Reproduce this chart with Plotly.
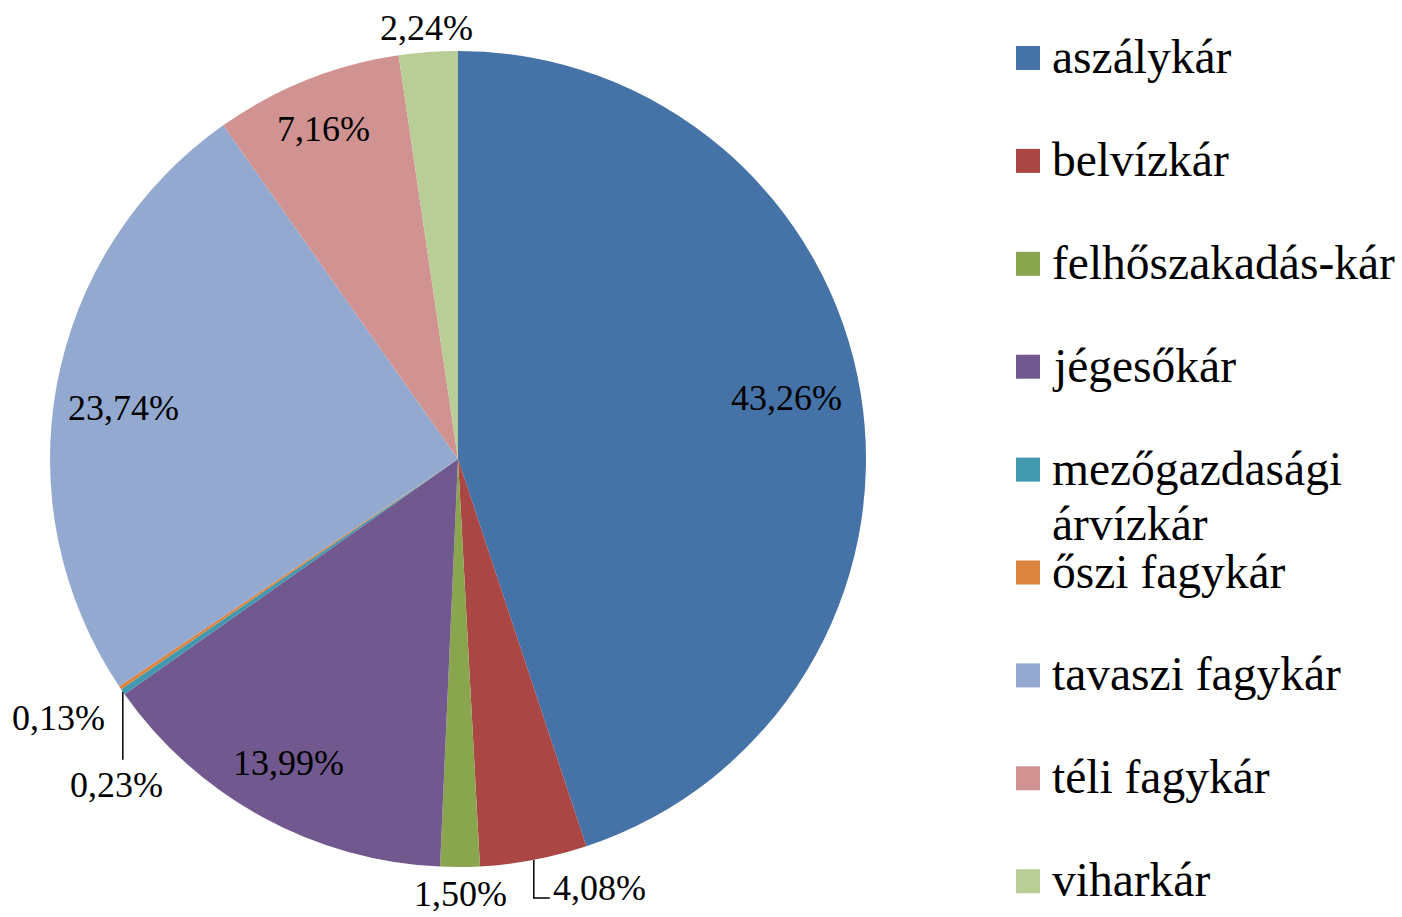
import math
import plotly.graph_objects as go

# ---------------- data ----------------
categories = ["aszálykár", "belvízkár", "felhőszakadás-kár", "jégesőkár",
              "mezőgazdasági árvízkár", "őszi fagykár", "tavaszi fagykár",
              "téli fagykár", "viharkár"]
values = [43.26, 4.08, 1.50, 13.99, 0.23, 0.13, 23.74, 7.16, 2.24]
value_labels = ["43,26%", "4,08%", "1,50%", "13,99%", "0,23%", "0,13%",
                "23,74%", "7,16%", "2,24%"]
colors = ["#4572A7", "#AA4643", "#89A54E", "#71588F", "#4198AF",
          "#DB843D", "#93A9CF", "#D19392", "#B9CD96"]

# ---------------- layout constants ----------------
W, H = 1402, 917
CX, CY, R = 458, 459, 408
FONT = "Liberation Serif, Times New Roman, serif"
LABEL_SIZE = 36
LEGEND_SIZE = 47.5


def px(x):
    return x / W


def py(y):
    return 1 - y / H


fig = go.Figure(go.Pie(
    labels=categories,
    values=values,
    marker=dict(colors=colors, line=dict(width=0)),
    sort=False,
    direction="clockwise",
    rotation=0,
    textinfo="none",
    hoverinfo="label+percent",
    showlegend=False,
    domain=dict(x=[px(CX - R), px(CX + R)], y=[py(CY + R), py(CY - R)]),
))

# mid angles of slices (clockwise from 12 o'clock), derived from values
total = sum(values)
mids = []
acc = 0.0
for v in values:
    mids.append((acc + v / 2) / total * 360.0)
    acc += v


def polar(deg, r):
    a = math.radians(deg)
    return CX + r * math.sin(a), CY - r * math.cos(a)


annotations = []
shapes = []

# label placement styles: (radial factor, angular nudge in degrees)
inside_style = {"aszálykár": (0.82, -1.3), "jégesőkár": (0.853, 0.5),
                "tavaszi fagykár": (0.83, -1.8), "téli fagykár": (0.873, -0.5)}
for i, cat in enumerate(categories):
    m = mids[i]
    txt = value_labels[i]
    if cat in inside_style:
        rf, da = inside_style[cat]
        x, y = polar(m + da, rf * R)
        annotations.append(dict(x=px(x), y=py(y), text=txt, xanchor="center",
                                yanchor="middle"))
    elif cat == "viharkár":
        x, y = polar(m, 1.06 * R)
        annotations.append(dict(x=px(x), y=py(y), text=txt, xanchor="center",
                                yanchor="middle"))
    elif cat == "felhőszakadás-kár":
        x, y = polar(m, 1.065 * R)
        annotations.append(dict(x=px(x), y=py(y), text=txt, xanchor="center",
                                yanchor="middle"))
    elif cat == "belvízkár":
        ex, ey = polar(m, R)
        elbow_y = CY + 1.095 * R * abs(math.cos(math.radians(m)))
        shapes.append(dict(type="path", xref="paper", yref="paper",
                           path=f"M {px(ex)},{py(ey)} L {px(ex)},{py(elbow_y)} L {px(ex + 16)},{py(elbow_y)}",
                           line=dict(color="black", width=1.5)))
        annotations.append(dict(x=px(ex + 17), y=py(elbow_y - 10), text=txt,
                                xanchor="left", yanchor="middle"))
    elif cat == "mezőgazdasági árvízkár":
        ex, ey = polar(m, R)
        end_y = ey + 68
        shapes.append(dict(type="path", xref="paper", yref="paper",
                           path=f"M {px(ex)},{py(ey)} L {px(ex)},{py(end_y)}",
                           line=dict(color="black", width=1.5)))
        annotations.append(dict(x=px(ex - 6), y=py(end_y + 25), text=txt,
                                xanchor="center", yanchor="middle"))
    elif cat == "őszi fagykár":
        ex, ey = polar(m, R)
        annotations.append(dict(x=px(ex - 13), y=py(ey + 30), text=txt,
                                xanchor="right", yanchor="middle"))

for a in annotations:
    a.update(xref="paper", yref="paper", showarrow=False,
             font=dict(family=FONT, size=LABEL_SIZE, color="black"))

# ---------------- manual legend ----------------
LEG_X0 = 1016
LEG_SQ = 24
LEG_Y0 = 58
LEG_STEP = 102.9
LINE_STEP = 55
legend_wrap = {"mezőgazdasági árvízkár": ["mezőgazdasági", "árvízkár"]}
for i, cat in enumerate(categories):
    yc = LEG_Y0 + i * LEG_STEP
    shapes.append(dict(type="rect", xref="paper", yref="paper",
                       x0=px(LEG_X0), x1=px(LEG_X0 + LEG_SQ),
                       y0=py(yc + LEG_SQ / 2), y1=py(yc - LEG_SQ / 2),
                       fillcolor=colors[i], line=dict(width=0)))
    lines = legend_wrap.get(cat, [cat])
    for k, ln in enumerate(lines):
        annotations.append(dict(x=px(1050), y=py(yc - 1 + k * LINE_STEP), text=ln,
                                xref="paper", yref="paper", showarrow=False,
                                xanchor="left", yanchor="middle",
                                font=dict(family=FONT, size=LEGEND_SIZE, color="black")))

fig.update_layout(
    width=W, height=H,
    margin=dict(l=0, r=0, t=0, b=0),
    paper_bgcolor="white",
    plot_bgcolor="white",
    annotations=annotations,
    shapes=shapes,
    showlegend=False,
)

fig.write_html("out.html", config={"displayModeBar": False},
               post_script="document.body.style.margin='0';document.body.style.overflow='hidden';")
